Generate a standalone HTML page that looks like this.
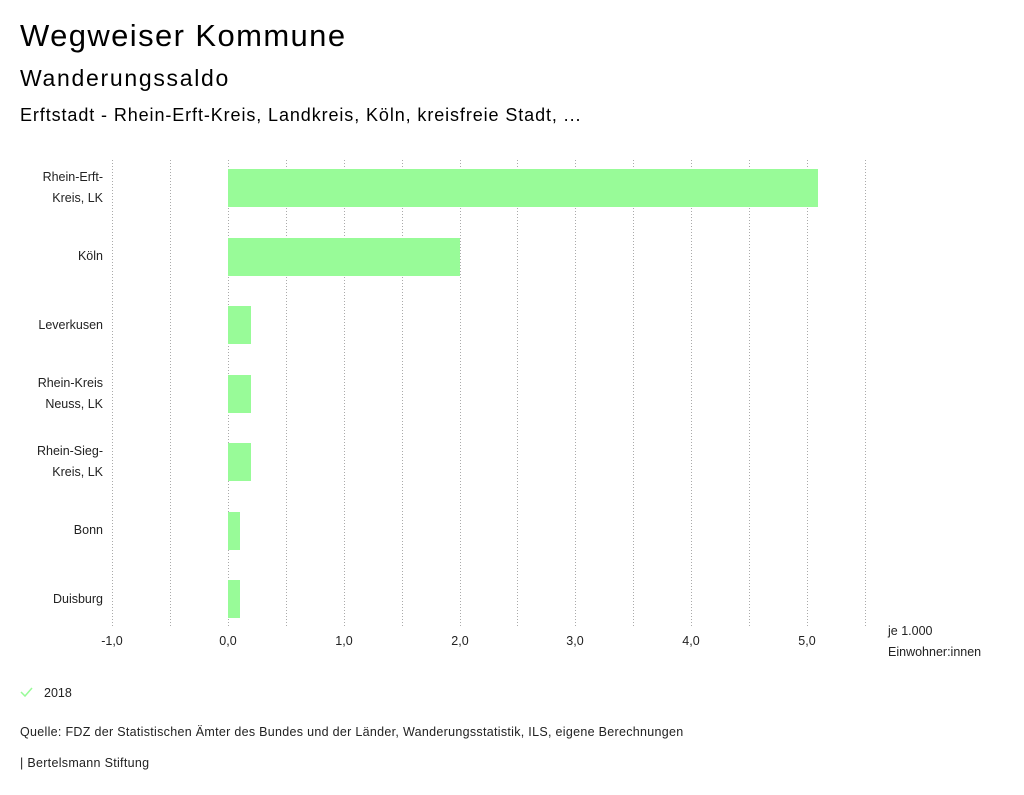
<!DOCTYPE html>
<html><head><meta charset="utf-8"><style>
body{margin:0;background:#fff;width:1024px;height:795px;overflow:hidden;font-family:"Liberation Sans","DejaVu Sans",sans-serif;color:#000}
.t{position:absolute;white-space:nowrap}
</style></head><body>
<div class="t" style="left:20px;top:18px;font-size:31px;letter-spacing:1.4px">Wegweiser Kommune</div>
<div class="t" style="left:20px;top:65px;font-size:23px;letter-spacing:1.7px">Wanderungssaldo</div>
<div class="t" style="left:20px;top:105px;font-size:18px;letter-spacing:0.9px">Erftstadt - Rhein-Erft-Kreis, Landkreis, Köln, kreisfreie Stadt, ...</div>
<svg style="position:absolute;left:0;top:0" width="1024" height="795" font-family="Liberation Sans, DejaVu Sans, sans-serif" font-size="12.5">
<g stroke="#aaa" stroke-dasharray="1,2" stroke-width="1">
<line x1="112.5" y1="160" x2="112.5" y2="628"/><line x1="170.5" y1="160" x2="170.5" y2="628"/>
<line x1="228.5" y1="160" x2="228.5" y2="628"/><line x1="286.5" y1="160" x2="286.5" y2="628"/>
<line x1="344.5" y1="160" x2="344.5" y2="628"/><line x1="402.5" y1="160" x2="402.5" y2="628"/>
<line x1="460.5" y1="160" x2="460.5" y2="628"/><line x1="517.5" y1="160" x2="517.5" y2="628"/>
<line x1="575.5" y1="160" x2="575.5" y2="628"/><line x1="633.5" y1="160" x2="633.5" y2="628"/>
<line x1="691.5" y1="160" x2="691.5" y2="628"/><line x1="749.5" y1="160" x2="749.5" y2="628"/>
<line x1="807.5" y1="160" x2="807.5" y2="628"/><line x1="865.5" y1="160" x2="865.5" y2="628"/>
</g>
<g fill="#98fb98">
<rect x="228" y="169" width="590" height="38"/>
<rect x="228" y="238" width="232" height="38"/>
<rect x="228" y="306" width="23" height="38"/>
<rect x="228" y="375" width="23" height="38"/>
<rect x="228" y="443" width="23" height="38"/>
<rect x="228" y="512" width="12" height="38"/>
<rect x="228" y="580" width="12" height="38"/>
</g>
<g text-anchor="end" fill="#222">
<text x="103" y="181">Rhein-Erft-</text><text x="103" y="202">Kreis, LK</text>
<text x="103" y="260">Köln</text>
<text x="103" y="329">Leverkusen</text>
<text x="103" y="387">Rhein-Kreis</text><text x="103" y="408">Neuss, LK</text>
<text x="103" y="455">Rhein-Sieg-</text><text x="103" y="476">Kreis, LK</text>
<text x="103" y="534">Bonn</text>
<text x="103" y="603">Duisburg</text>
</g>
<g text-anchor="middle" fill="#222">
<text x="112" y="645">-1,0</text><text x="228" y="645">0,0</text><text x="344" y="645">1,0</text>
<text x="460" y="645">2,0</text><text x="575" y="645">3,0</text><text x="691" y="645">4,0</text><text x="807" y="645">5,0</text>
</g>
<text x="888" y="635" fill="#222">je 1.000</text>
<text x="888" y="656" fill="#222">Einwohner:innen</text>
<polyline points="21,692 25,696 32,688" fill="none" stroke="#98fb98" stroke-width="1.5"/>
<text x="44" y="697" fill="#222">2018</text>
<text x="20" y="736" fill="#222" letter-spacing="0.3">Quelle: FDZ der Statistischen Ämter des Bundes und der Länder, Wanderungsstatistik, ILS, eigene Berechnungen</text>
<text x="20" y="767" fill="#222" letter-spacing="0.3">| Bertelsmann Stiftung</text>
</svg>
</body></html>
